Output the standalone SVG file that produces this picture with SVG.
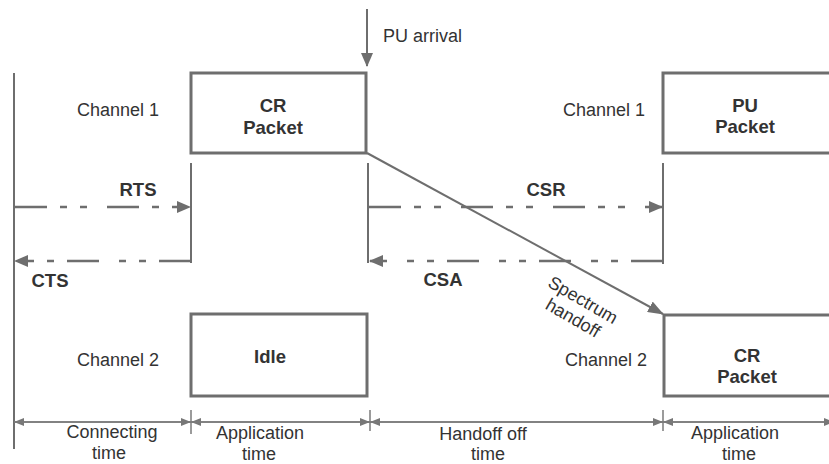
<svg xmlns="http://www.w3.org/2000/svg" width="829" height="464" viewBox="0 0 829 464">
  <style>
    .box { fill: #ffffff; stroke: #6e6e6e; stroke-width: 3; }
    .line { fill: none; stroke: #6e6e6e; stroke-width: 2; }
    .dash { fill: none; stroke: #6e6e6e; stroke-width: 2.5; stroke-dasharray: 32 13 7 13 7 20; }
    .axis { fill: none; stroke: #7a7a7a; stroke-width: 1.5; }
    .lbl { font-family: "Liberation Sans", Arial, sans-serif; font-size: 18px; fill: #333333; }
    .bold { font-family: "Liberation Sans", Arial, sans-serif; font-size: 18.5px; font-weight: bold; fill: #333333; }
    .mid { text-anchor: middle; }
  </style>
  <defs>
    <marker id="head" markerUnits="userSpaceOnUse" markerWidth="14" markerHeight="12" refX="13" refY="6" orient="auto">
      <path d="M0,0 L14,6 L0,12 z" fill="#6e6e6e"/>
    </marker>
    <marker id="head-big" markerUnits="userSpaceOnUse" markerWidth="16" markerHeight="12" refX="15" refY="6" orient="auto">
      <path d="M0,0 L16,6 L0,12 z" fill="#6e6e6e"/>
    </marker>
    <marker id="tick-head" markerUnits="userSpaceOnUse" markerWidth="10" markerHeight="8" refX="10" refY="4" orient="auto">
      <path d="M0,0 L10,4 L0,8 z" fill="#777777"/>
    </marker>
  </defs>

  <!-- channel labels -->
  <g id="labels">
    <text class="lbl" x="77" y="116">Channel 1</text>
    <text class="lbl" x="563" y="116">Channel 1</text>
    <text class="lbl" x="77" y="366">Channel 2</text>
    <text class="lbl" x="565" y="366">Channel 2</text>
    <text class="lbl" x="383" y="42">PU arrival</text>
  </g>

  <!-- packets on the channels -->
  <g id="cr-packet-1">
    <rect class="box" x="191" y="73" width="175" height="80"/>
    <text class="bold mid" x="273" y="112">CR</text>
    <text class="bold mid" x="273" y="134">Packet</text>
  </g>
  <g id="pu-packet">
    <rect class="box" x="663" y="73" width="180" height="80"/>
    <text class="bold mid" x="745" y="112">PU</text>
    <text class="bold mid" x="745" y="133">Packet</text>
  </g>
  <g id="idle">
    <rect class="box" x="191" y="314" width="176" height="82"/>
    <text class="bold mid" x="270" y="363">Idle</text>
  </g>
  <g id="cr-packet-2">
    <rect class="box" x="664" y="315" width="180" height="81"/>
    <text class="bold mid" x="747" y="362">CR</text>
    <text class="bold mid" x="747" y="383">Packet</text>
  </g>

  <!-- signalling and handoff connectors -->
  <g id="connectors">
    <line class="line" x1="14" y1="73" x2="14" y2="449"/>
    <line class="line" x1="191" y1="163" x2="191" y2="263"/>
    <line class="line" x1="368" y1="163" x2="368" y2="263"/>
    <line class="line" x1="663" y1="163" x2="663" y2="264"/>

    <line class="line" x1="367" y1="9" x2="367" y2="66" marker-end="url(#head)"/>

    <path class="dash" d="M15,207 H190" marker-end="url(#head)"/>
    <path class="dash" d="M191,261 H15" marker-end="url(#head)"/>
    <path class="dash" d="M369,207 H662" marker-end="url(#head)"/>
    <path class="dash" d="M663,261 H370" marker-end="url(#head)"/>

    <line class="line" x1="367" y1="153" x2="663" y2="314" marker-end="url(#head-big)"/>

    <text class="bold mid" x="138" y="196">RTS</text>
    <text class="bold mid" x="50" y="287">CTS</text>
    <text class="bold mid" x="546" y="196">CSR</text>
    <text class="bold mid" x="443" y="286">CSA</text>

    <g class="lbl" font-size="16.5">
      <text class="mid" transform="translate(583,300) rotate(30)" y="6">Spectrum</text>
      <text class="mid" transform="translate(573,318) rotate(30)" y="6">handoff</text>
    </g>
  </g>

  <!-- time axis -->
  <g id="time-axis">
    <line class="axis" x1="191" y1="410" x2="191" y2="434"/>
    <line class="axis" x1="370" y1="410" x2="370" y2="431"/>
    <line class="axis" x1="663" y1="410" x2="663" y2="431"/>
    <line class="axis" x1="191" y1="422" x2="14" y2="422" marker-end="url(#tick-head)"/>
    <line class="axis" x1="14" y1="422" x2="191" y2="422" marker-end="url(#tick-head)"/>
    <line class="axis" x1="370" y1="422" x2="191" y2="422" marker-end="url(#tick-head)"/>
    <line class="axis" x1="191" y1="422" x2="370" y2="422" marker-end="url(#tick-head)"/>
    <line class="axis" x1="663" y1="422" x2="370" y2="422" marker-end="url(#tick-head)"/>
    <line class="axis" x1="370" y1="422" x2="663" y2="422" marker-end="url(#tick-head)"/>
    <line class="axis" x1="829" y1="422" x2="663" y2="422" marker-end="url(#tick-head)"/>
    <line class="axis" x1="663" y1="422" x2="834" y2="422" marker-end="url(#tick-head)"/>

    <text class="lbl mid" x="112" y="438">Connecting</text>
    <text class="lbl mid" x="109" y="459">time</text>
    <text class="lbl mid" x="260" y="439">Application</text>
    <text class="lbl mid" x="259" y="460">time</text>
    <text class="lbl mid" x="483" y="440" font-size="17.5">Handoff off</text>
    <text class="lbl mid" x="488" y="460" font-size="17">time</text>
    <text class="lbl mid" x="735" y="439">Application</text>
    <text class="lbl mid" x="739" y="460">time</text>
  </g>
</svg>
